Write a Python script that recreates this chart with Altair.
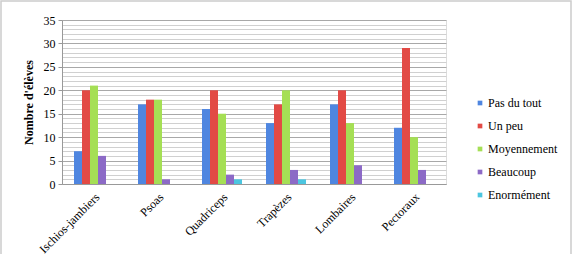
import altair as alt
import pandas as pd

categories = ["Ischios-jambiers", "Psoas", "Quadriceps", "Trapèzes", "Lombaires", "Pectoraux"]
series = ["Pas du tout", "Un peu", "Moyennement", "Beaucoup", "Enormément"]
pas_du_tout = [7, 17, 16, 13, 17, 12]
un_peu = [20, 18, 20, 17, 20, 29]
moyennement = [21, 18, 15, 20, 13, 10]
beaucoup = [6, 1, 2, 3, 4, 3]
enormement = [0, 0, 1, 1, 0, 0]
colors = ["#4f86e0", "#e24a45", "#a5df55", "#8c6ac6", "#4cc6e0"]
y_ticks = list(range(0, 36))

values = [pas_du_tout, un_peu, moyennement, beaucoup, enormement]
rows = []
for s, vals in zip(series, values):
    for c, v in zip(categories, vals):
        rows.append({"Muscle": c, "Niveau": s, "Nombre": v})
df = pd.DataFrame(rows)

font = "Liberation Serif, Times New Roman, DejaVu Serif, serif"

bars = alt.Chart(df).mark_bar(size=8).encode(
    x=alt.X("Muscle:N", sort=categories,
            scale=alt.Scale(paddingInner=0.375, paddingOuter=0.1875),
            axis=alt.Axis(title=None, labelAngle=-45, labelAlign="right", labelBaseline="top",
                          labelFont=font, labelFontSize=12, labelColor="#000",
                          ticks=False, domainColor="#999", labelPadding=7)),
    xOffset=alt.XOffset("Niveau:N", sort=series),
    y=alt.Y("Nombre:Q", scale=alt.Scale(domain=[0, 35], nice=False),
            axis=alt.Axis(title="Nombre d'élèves", values=y_ticks,
                          labelExpr="datum.value % 5 === 0 ? datum.label : ''",
                          labelFont=font, labelFontSize=12, labelColor="#000",
                          titleFont=font, titleFontSize=12, titleFontWeight="bold",
                          titleColor="#000", titlePadding=8,
                          gridColor={"condition": {"test": "datum.value % 5 === 0", "value": "#a8a8a8"}, "value": "#d0d0d0"},
                          tickOpacity={"condition": {"test": "datum.value % 5 === 0", "value": 1}, "value": 0},
                          tickColor="#999", tickSize=4, domainColor="#999", labelPadding=3)),
    color=alt.Color("Niveau:N", sort=series,
                    scale=alt.Scale(domain=series, range=colors),
                    legend=alt.Legend(title=None, orient="none", legendX=412, legendY=77,
                                      symbolType="square", symbolSize=22, symbolStrokeWidth=0,
                                      labelFont=font, labelFontSize=12, labelColor="#000",
                                      rowPadding=11, labelOffset=2)),
)

frame = alt.Chart(pd.DataFrame({"a": [0]})).mark_rect(fill=None, stroke="#cccccc", strokeWidth=1.5).encode(
    x=alt.value(-61), x2=alt.value(509), y=alt.value(-19), y2=alt.value(240)
)

chart = alt.layer(frame, bars).properties(
    width=384, height=164,
    autosize=alt.AutoSizeParams(type="none"),
    padding={"left": 62, "top": 20, "right": 127, "bottom": 70},
).configure_view(stroke=None).configure(background="white")

chart.save("out.html", embed_options={"renderer": "svg", "actions": False})
